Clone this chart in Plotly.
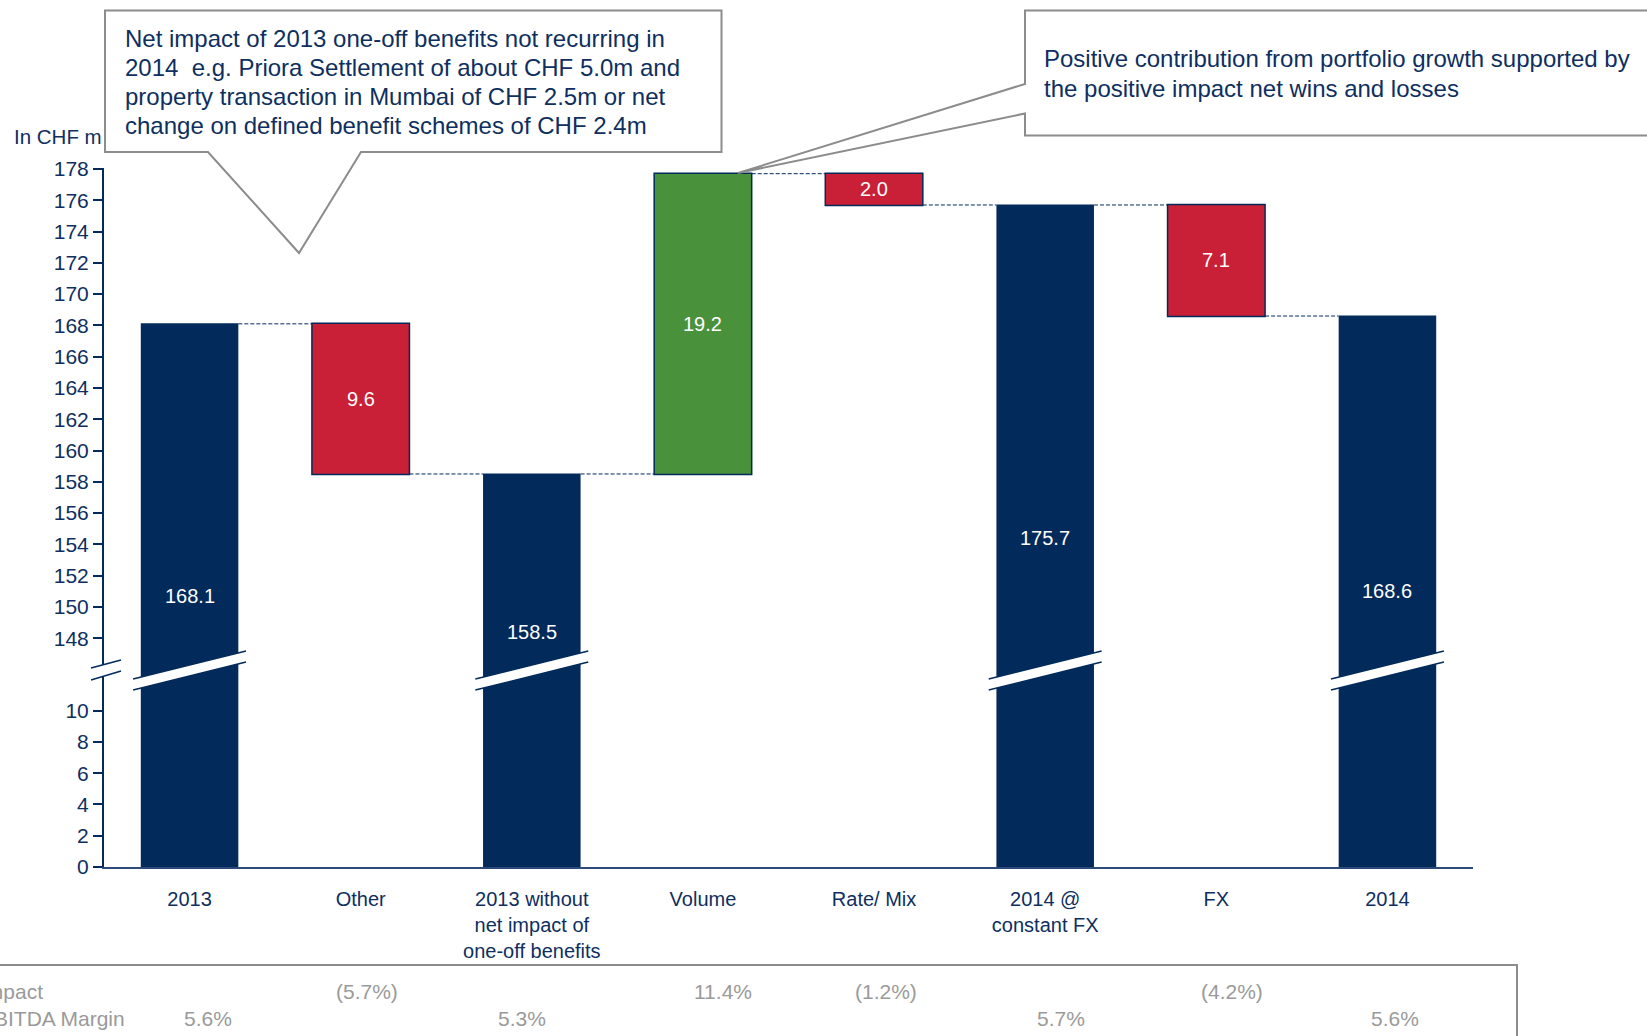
import plotly.graph_objects as go

# ---------------- data ----------------
categories = ["2013", "Other", "2013 without<br>net impact of<br>one-off benefits", "Volume",
              "Rate/ Mix", "2014 @<br>constant FX", "FX", "2014"]
values = [168.1, -9.6, 158.5, 19.2, -2.0, 175.7, -7.1, 168.6]
measures = ["absolute", "relative", "absolute", "relative", "relative", "absolute", "relative", "absolute"]
value_labels = ["168.1", "9.6", "158.5", "19.2", "2.0", "175.7", "7.1", "168.6"]
impact_row = ["", "(5.7%)", "", "11.4%", "(1.2%)", "", "(4.2%)", ""]
margin_row = ["5.6%", "", "5.3%", "", "", "5.7%", "", "5.6%"]
row_names = ["Impact", "EBITDA Margin"]
upper_ticks = list(range(148, 179, 2))
lower_ticks = list(range(0, 11, 2))
unit_label = "In CHF m"
callout_1_lines = ["Net impact of 2013 one-off benefits not recurring in",
                   "2014 \u00a0e.g. Priora Settlement of about CHF 5.0m and",
                   "property transaction in Mumbai of CHF 2.5m or net",
                   "change on defined benefit schemes of CHF 2.4m"]
callout_2_lines = ["Positive contribution from portfolio growth supported by",
                   "the positive impact net wins and losses"]

# ---------------- layout positions (not data) ----------------
total_label_y = {0: 150.7, 2: 148.4, 5: 154.4, 7: 151.0}
impact_shift = [0, 6, 0, 20, 12, 0, 16, 0]
margin_shift = [18, 0, -10, 0, 0, 16, 0, 8]

# ---------------- style ----------------
W, H = 1647, 1036
NAVY = "#022A5A"
TEXT = "#0E2F60"
RED = "#C91F37"
GREEN = "#4A913C"
GRAY = "#9A9A9A"
BOX = "#8C8C8C"
FONT = "Liberation Sans, Arial, sans-serif"
PPU = 15.64          # pixels per unit
Y0 = 867             # pixel of value 0
YBRK = 670           # pixel of axis break
YTOP = 169           # pixel of 178


def px(x):
    return x / W


def py(y):
    return 1 - y / H


x_idx = list(range(len(categories)))

fig = go.Figure()
for ax in ["y", "y2"]:
    fig.add_trace(go.Waterfall(
        x=x_idx, y=values, measure=measures, xaxis="x", yaxis=ax,
        width=0.57,
        totals=dict(marker=dict(color=NAVY, line=dict(color=NAVY, width=0))),
        increasing=dict(marker=dict(color=GREEN, line=dict(color=NAVY, width=1.5))),
        decreasing=dict(marker=dict(color=RED, line=dict(color=NAVY, width=1.5))),
        connector=dict(visible=(ax == "y2"), mode="between",
                       line=dict(color=NAVY, width=1, dash="4px,2px")),
        textinfo="none", hoverinfo="skip", showlegend=False,
    ))

annotations = []
# value labels
level = 0.0
for i, (v, m, lab) in enumerate(zip(values, measures, value_labels)):
    if m == "absolute":
        yv = total_label_y[i]
        level = v
    else:
        yv = level + v / 2
        level += v
    annotations.append(dict(x=i, y=yv, xref="x", yref="y2", text=lab, showarrow=False,
                            font=dict(family=FONT, size=20, color="white")))

# bottom table
for row, shifts, ypix in [(impact_row, impact_shift, 991.6), (margin_row, margin_shift, 1018)]:
    for i, t in enumerate(row):
        if t:
            annotations.append(dict(x=i, y=py(ypix), xref="x", yref="paper", text=t,
                                    showarrow=False, xshift=shifts[i], yanchor="middle",
                                    font=dict(family=FONT, size=21, color=GRAY)))
for name, ypix in zip(row_names, [991.6, 1018]):
    annotations.append(dict(x=px(-22), y=py(ypix), xref="paper", yref="paper", text=name,
                            showarrow=False, xanchor="left", yanchor="middle",
                            font=dict(family=FONT, size=21, color=GRAY)))

annotations.append(dict(x=px(12), y=py(136.5), xref="paper", yref="paper", text=unit_label,
                        showarrow=False, xanchor="left", yanchor="middle",
                        font=dict(family=FONT, size=20.5, color=TEXT)))
for k, line in enumerate(callout_1_lines):
    annotations.append(dict(x=px(123), y=py(39 + 28.7 * k), xref="paper", yref="paper", text=line,
                            showarrow=False, xanchor="left", yanchor="middle", align="left",
                            font=dict(family=FONT, size=24, color=TEXT)))
for k, line in enumerate(callout_2_lines):
    annotations.append(dict(x=px(1042), y=py(59 + 29 * k), xref="paper", yref="paper", text=line,
                            showarrow=False, xanchor="left", yanchor="middle", align="left",
                            font=dict(family=FONT, size=24, color=TEXT)))


def ppath(points):
    return "M " + " L ".join(f"{px(x):.5f},{py(y):.5f}" for x, y in points) + " Z"


shapes = []
# callout 1
shapes.append(dict(type="path", xref="paper", yref="paper", layer="above",
                   path=ppath([(105, 10.5), (721.5, 10.5), (721.5, 152), (361, 152), (299, 253),
                               (208, 152), (105, 152)]),
                   fillcolor="white", line=dict(color=BOX, width=2)))
# callout 2
shapes.append(dict(type="path", xref="paper", yref="paper", layer="above",
                   path=ppath([(1025, 10.5), (1700, 10.5), (1700, 135.5), (1025, 135.5), (1025, 113.5),
                               (738, 173), (1025, 84)]),
                   fillcolor="white", line=dict(color=BOX, width=2)))
# table frame
shapes.append(dict(type="path", xref="paper", yref="paper", layer="above",
                   path=f"M {px(-10):.5f},{py(965):.5f} L {px(1517):.5f},{py(965):.5f} L {px(1517):.5f},{py(1060):.5f}",
                   line=dict(color=BOX, width=2)))

# axis break on the bars
for i, m in enumerate(measures):
    if m != "absolute":
        continue
    xl, xr = i - 0.33, i + 0.33
    shapes.append(dict(type="path", xref="x", yref="paper", layer="above",
                       path=f"M {xl},{py(679):.5f} L {xr},{py(651):.5f} L {xr},{py(662):.5f} L {xl},{py(690):.5f} Z",
                       fillcolor="white", line=dict(width=0)))
    for a, b in [(679, 651), (690, 662)]:
        shapes.append(dict(type="line", xref="x", yref="paper", layer="above",
                           x0=xl, y0=py(a), x1=xr, y1=py(b), line=dict(color=NAVY, width=1.5)))
# axis break on the y axis
shapes.append(dict(type="path", xref="paper", yref="paper", layer="above",
                   path=ppath([(91, 668), (121, 660), (121, 671), (91, 680)]),
                   fillcolor="white", line=dict(width=0)))
for (x0, y0, x1, y1) in [(91, 668, 121, 660), (91, 680, 121, 671)]:
    shapes.append(dict(type="line", xref="paper", yref="paper", layer="above",
                       x0=px(x0), y0=py(y0), x1=px(x1), y1=py(y1), line=dict(color=NAVY, width=1.5)))

yax_common = dict(showline=True, linecolor=NAVY, linewidth=2, ticks="outside", ticklen=9,
                  tickwidth=2, tickcolor=NAVY, showgrid=False, zeroline=False, anchor="x",
                  tickfont=dict(family=FONT, size=21, color=TEXT), fixedrange=True)

fig.update_layout(
    width=W, height=H, margin=dict(l=0, r=0, t=0, b=0, autoexpand=False),
    paper_bgcolor="white", plot_bgcolor="white",
    font=dict(family=FONT, color=TEXT),
    xaxis=dict(domain=[px(104), px(1473)], range=[-0.5, 7.5], anchor="y",
               tickmode="array", tickvals=x_idx, ticktext=categories,
               showline=True, linecolor="#2E4A78", linewidth=2, ticks="outside", ticklen=13,
               tickcolor="rgba(0,0,0,0)", showgrid=False, zeroline=False, fixedrange=True,
               tickfont=dict(family=FONT, size=20, color=TEXT)),
    yaxis=dict(domain=[py(Y0), py(YBRK)], range=[0, (Y0 - YBRK) / PPU],
               tickmode="array", tickvals=lower_ticks, **yax_common),
    yaxis2=dict(domain=[py(YBRK), py(YTOP - 1)], range=[178 - (YBRK - YTOP) / PPU, 178 + 1 / PPU],
                tickmode="array", tickvals=upper_ticks, **yax_common),
    annotations=annotations, shapes=shapes, showlegend=False,
)

fig.write_html("out.html", config={"displayModeBar": False},
               post_script="document.body.style.margin='0';document.body.style.overflow='hidden';")
